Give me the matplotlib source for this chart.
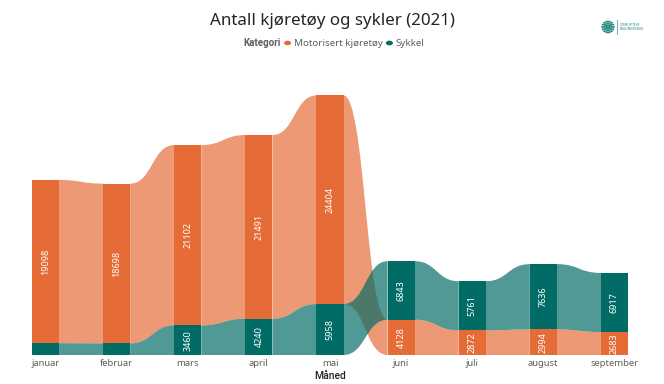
import numpy as np
import matplotlib
matplotlib.use("Agg")
import matplotlib.pyplot as plt
from matplotlib.path import Path
from matplotlib.patches import PathPatch, Circle

months = ['januar', 'februar', 'mars', 'april', 'mai', 'juni', 'juli', 'august', 'september']
motorisert = [19098, 18698, 21102, 21491, 24404, 4128, 2872, 2994, 2683]
sykkel = [1380, 1350, 3460, 4240, 5958, 6843, 5761, 7636, 6917]
series_names = ['Motorisert kjøretøy', 'Sykkel']
series_values = [motorisert, sykkel]
bar_colors = ['#E66C37', '#016B65']
label_min = 2000

plt.rcParams['font.family'] = ['Noto Sans', 'DejaVu Sans']

W, H = 664, 384
fig = plt.figure(figsize=(W / 100, H / 100), dpi=100)
renderer = fig.canvas.get_renderer()

def px(x, y):
    return x / W, 1 - y / H

bw = 0.38
n = len(months)
ax_left, ax_right, ax_bottom, ax_top = 32, 628, 355, 90
ax = fig.add_axes([ax_left / W, (H - ax_bottom) / H, (ax_right - ax_left) / W, (ax_bottom - ax_top) / H])
ax.set_xlim(-bw / 2, n - 1 + bw / 2)
ax.set_ylim(0, 31000)
for s in ax.spines.values():
    s.set_visible(False)
ax.set_yticks([])
ax.set_xticks(range(n))
ax.set_xticklabels(months, color='#605E5C', fontsize=6.8)
ax.tick_params(axis='x', length=0, pad=3)
ax.set_xlabel('Måned', color='#252423', fontsize=7.5, labelpad=2,
              family=['Roboto', 'DejaVu Sans'], fontweight='medium')

vals = np.array(series_values, dtype=float)
bottoms = np.zeros_like(vals)
for j in range(n):
    order = np.argsort(vals[:, j])
    b = 0.0
    for k in order:
        bottoms[k, j] = b
        b += vals[k, j]
tops = bottoms + vals

for k in range(len(series_values)):
    for j in range(n - 1):
        x0 = j + bw / 2
        x1 = j + 1 - bw / 2
        xm = (x0 + x1) / 2
        b0, b1 = bottoms[k, j], bottoms[k, j + 1]
        t0, t1 = tops[k, j], tops[k, j + 1]
        verts = [(x0, b0), (xm, b0), (xm, b1), (x1, b1),
                 (x1, t1), (xm, t1), (xm, t0), (x0, t0), (x0, b0)]
        codes = [Path.MOVETO, Path.CURVE4, Path.CURVE4, Path.CURVE4,
                 Path.LINETO, Path.CURVE4, Path.CURVE4, Path.CURVE4, Path.CLOSEPOLY]
        ax.add_patch(PathPatch(Path(verts, codes), facecolor=bar_colors[k],
                               alpha=0.69, edgecolor='none', zorder=1))

for k in range(len(series_values)):
    ax.bar(range(n), vals[k], bottom=bottoms[k], width=bw, color=bar_colors[k],
           edgecolor='none', zorder=2)
    for j in range(n):
        if vals[k, j] >= label_min:
            ax.text(j, bottoms[k, j] + vals[k, j] / 2, f'{int(vals[k, j])}', rotation=90,
                    ha='center', va='center', color='white', fontsize=6.5, zorder=3)

# title scaled to target width
title = fig.text(*px(332, 21), 'Antall kjøretøy og sykler (2021)', ha='center', va='center',
                 fontsize=14, color='#252423')
tw = title.get_window_extent(renderer).width
title.set_fontsize(14 * 245 / tw)

# legend laid out sequentially, centred
ly = 43
fs = 7
t1 = fig.text(0, 0, 'Kategori', fontsize=fs, fontweight='bold', color='#605E5C', va='center',
              family=['Roboto', 'DejaVu Sans'])
t2 = fig.text(0, 0, series_names[0], fontsize=fs, color='#605E5C', va='center')
t3 = fig.text(0, 0, series_names[1], fontsize=fs, color='#605E5C', va='center')
w1, w2, w3 = [t.get_window_extent(renderer).width for t in (t1, t2, t3)]
dot_gap = 9
total = w1 + 4 + dot_gap + w2 + 4 + dot_gap + w3
x = 334 - total / 2
t1.set_position(px(x, ly)); x += w1 + 4
fig.patches.append(Circle(px(x + 2.8, ly), radius=2.8 / W, transform=fig.transFigure, color=bar_colors[0]))
x += dot_gap
t2.set_position(px(x, ly)); x += w2 + 4
fig.patches.append(Circle(px(x + 2.8, ly), radius=2.8 / W, transform=fig.transFigure, color=bar_colors[1]))
x += dot_gap
t3.set_position(px(x, ly))

# logo
logo_c = '#2E8F87'
cx, cy = 608, 27
for r, m in [(1.5, 6), (3.5, 10), (5.5, 14)]:
    ang = np.linspace(0, 2 * np.pi, m, endpoint=False)
    xs = cx + r * np.cos(ang)
    ys = cy + r * np.sin(ang)
    fig.patches.extend([Circle(px(a, b), radius=0.6 / W, transform=fig.transFigure, color=logo_c)
                        for a, b in zip(xs, ys)])
fig.add_artist(plt.Line2D([617 / W, 617 / W], [1 - 20 / H, 1 - 34 / H], color=logo_c, lw=0.5))
fig.text(*px(620, 27), 'DISRUPTIVE\nENGINEERING', ha='left', va='center', fontsize=2.6,
         color=logo_c, linespacing=1.1)

fig.savefig('out.png', dpi=100, facecolor='white')
